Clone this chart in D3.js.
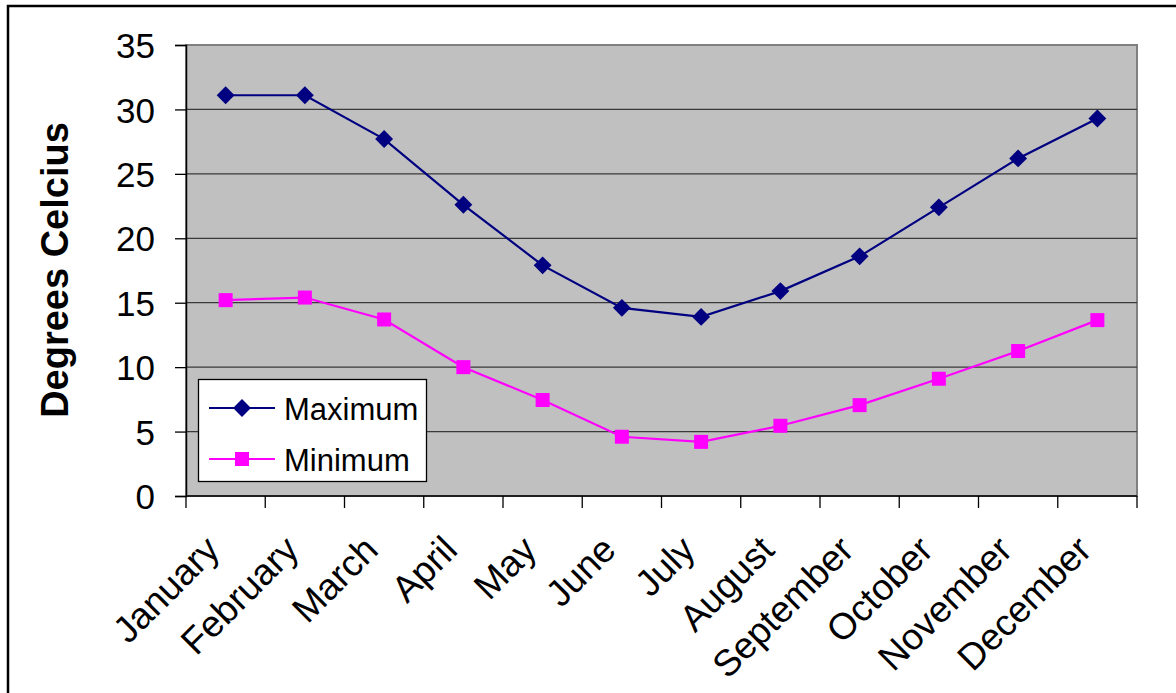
<!DOCTYPE html>
<html>
<head>
<meta charset="utf-8">
<script src="https://cdn.jsdelivr.net/npm/d3@7"></script>
<style>
  html, body { margin: 0; padding: 0; background: #fff; }
  svg { display: block; font-family: "Liberation Sans", Arial, sans-serif; }
</style>
</head>
<body>
<svg id="chart" width="1176" height="693"></svg>
<script>
// Monthly temperature data (°C)
const months = ["January", "February", "March", "April", "May", "June",
                "July", "August", "September", "October", "November", "December"];
const maximum = [31.1, 31.1, 27.7, 22.6, 17.9, 14.6, 13.9, 15.9, 18.6, 22.4, 26.2, 29.3];
const minimum = [15.2, 15.4, 13.7, 10.0, 7.45, 4.6, 4.2, 5.45, 7.05, 9.1, 11.25, 13.65];
const yTicks = [0, 5, 10, 15, 20, 25, 30, 35];
const seriesNames = ["Maximum", "Minimum"];
const yTitle = "Degrees Celcius";

const svg = d3.select("#chart");

// Outer chart frame
svg.append("rect")
  .attr("x", 8).attr("y", 6).attr("width", 1200).attr("height", 720)
  .attr("fill", "#fff").attr("stroke", "#000").attr("stroke-width", 2.5);

const plot = { left: 186, top: 45, right: 1137, bottom: 496 };

const x = d3.scaleBand().domain(months).range([plot.left, plot.right]).padding(0);
const y = d3.scaleLinear().domain([0, 35]).range([plot.bottom, plot.top]);

// Plot area background
svg.append("rect")
  .attr("x", plot.left).attr("y", plot.top)
  .attr("width", plot.right - plot.left).attr("height", plot.bottom - plot.top)
  .attr("fill", "#c0c0c0").attr("stroke", "#808080").attr("stroke-width", 2);

// Horizontal gridlines
svg.append("g")
  .selectAll("line")
  .data(yTicks.filter(t => t > 0 && t < 35))
  .join("line")
  .attr("x1", plot.left).attr("x2", plot.right)
  .attr("y1", d => y(d)).attr("y2", d => y(d))
  .attr("stroke", "#3a3a3a").attr("stroke-width", 1.3);

// Y axis
const yAxis = svg.append("g")
  .attr("transform", `translate(${plot.left},0)`)
  .call(d3.axisLeft(y).tickValues(yTicks).tickSize(11).tickPadding(20).tickFormat(d3.format("d")));
yAxis.select(".domain").attr("stroke", "#000").attr("stroke-width", 1.5);
yAxis.selectAll(".tick line").attr("stroke", "#000").attr("stroke-width", 1.3);
yAxis.selectAll(".tick text")
  .attr("font-size", 35).attr("fill", "#000")
  .attr("font-family", "Liberation Sans, Arial, sans-serif")
  .attr("dy", "0.36em");

// X axis: ticks on category boundaries
const xAxisG = svg.append("g");
xAxisG.append("line")
  .attr("x1", plot.left).attr("x2", plot.right)
  .attr("y1", plot.bottom).attr("y2", plot.bottom)
  .attr("stroke", "#000").attr("stroke-width", 1.5);
const boundaries = months.map(m => x(m)).concat([x(months[months.length - 1]) + x.bandwidth()]);
xAxisG.selectAll("line.tk")
  .data(boundaries)
  .join("line")
  .attr("class", "tk")
  .attr("x1", d => d).attr("x2", d => d)
  .attr("y1", plot.bottom).attr("y2", plot.bottom + 12)
  .attr("stroke", "#000").attr("stroke-width", 1.3);

xAxisG.selectAll("text")
  .data(months)
  .join("text")
  .attr("transform", d => `translate(${x(d) + x.bandwidth() / 2 - 4},${plot.bottom + 56}) rotate(-45)`)
  .attr("text-anchor", "end")
  .attr("font-size", 37)
  .attr("fill", "#000")
  .text(d => d);

// Y axis title
svg.append("text")
  .attr("transform", `translate(68,270) rotate(-90)`)
  .attr("text-anchor", "middle")
  .attr("font-size", 38)
  .attr("font-weight", "bold")
  .attr("fill", "#000")
  .text(yTitle);

// Series
const cx = d => x(d) + x.bandwidth() / 2;
const line = d3.line().x(d => cx(d.m)).y(d => y(d.v));
const maxData = months.map((m, i) => ({ m, v: maximum[i] }));
const minData = months.map((m, i) => ({ m, v: minimum[i] }));

const maxColor = "#000080";
const minColor = "#ff00ff";

svg.append("path").datum(maxData)
  .attr("d", line).attr("fill", "none")
  .attr("stroke", maxColor).attr("stroke-width", 2.2);
svg.append("path").datum(minData)
  .attr("d", line).attr("fill", "none")
  .attr("stroke", minColor).attr("stroke-width", 2.2);

const diamond = d3.symbol().type(d3.symbolSquare).size(160);
svg.append("g").selectAll("path")
  .data(maxData).join("path")
  .attr("d", diamond)
  .attr("transform", d => `translate(${cx(d.m)},${y(d.v)}) rotate(45)`)
  .attr("fill", maxColor);

svg.append("g").selectAll("rect")
  .data(minData).join("rect")
  .attr("x", d => cx(d.m) - 7).attr("y", d => y(d.v) - 7)
  .attr("width", 14).attr("height", 14)
  .attr("fill", minColor);

// Legend
const legend = svg.append("g");
legend.append("rect")
  .attr("x", 198.5).attr("y", 379.5).attr("width", 228).attr("height", 102)
  .attr("fill", "#fff").attr("stroke", "#000").attr("stroke-width", 1.3);

const legendRows = [
  { name: seriesNames[0], color: maxColor, cy: 408, shape: "diamond" },
  { name: seriesNames[1], color: minColor, cy: 459, shape: "square" }
];
legendRows.forEach(r => {
  legend.append("line")
    .attr("x1", 209).attr("x2", 275).attr("y1", r.cy).attr("y2", r.cy)
    .attr("stroke", r.color).attr("stroke-width", 2.2);
  if (r.shape === "diamond") {
    legend.append("path").attr("d", diamond)
      .attr("transform", `translate(242,${r.cy}) rotate(45)`)
      .attr("fill", r.color);
  } else {
    legend.append("rect")
      .attr("x", 242 - 7).attr("y", r.cy - 7).attr("width", 14).attr("height", 14)
      .attr("fill", r.color);
  }
  legend.append("text")
    .attr("x", 284).attr("y", r.cy + 12)
    .attr("font-size", 31).attr("fill", "#000")
    .text(r.name);
});
</script>
</body>
</html>
